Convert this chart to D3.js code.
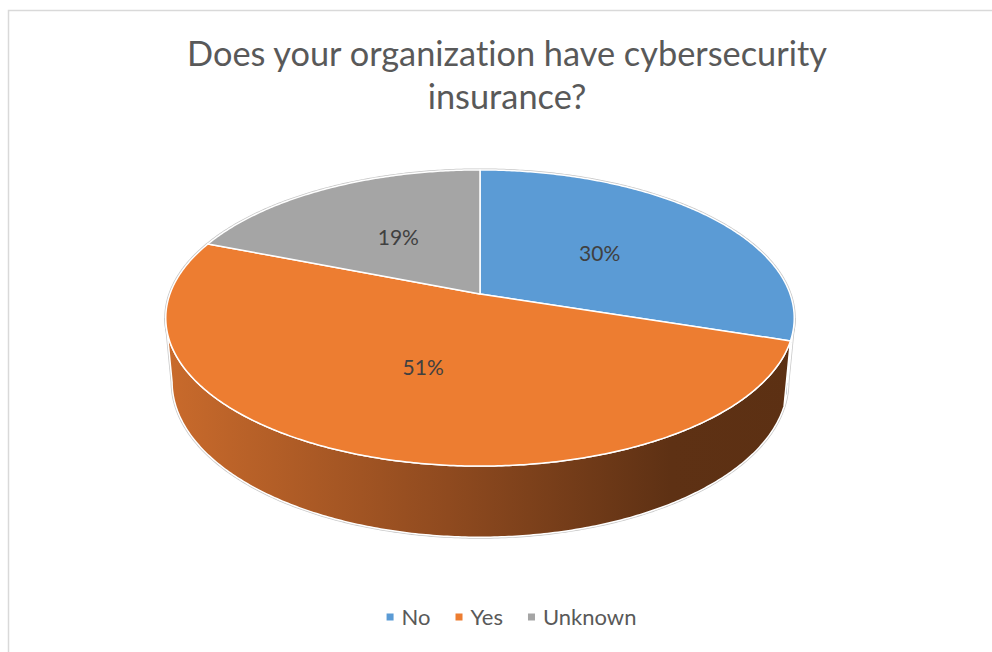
<!DOCTYPE html>
<html><head><meta charset="utf-8">
<script src="https://cdn.jsdelivr.net/npm/d3@7"></script>
<style>body{margin:0;background:#fff}svg{display:block}text{font-variant-ligatures:none;font-feature-settings:"liga" 0}</style>
</head><body>
<svg id="c" width="992" height="652"></svg>
<script>
// ---- data ----
const categories = ["No", "Yes", "Unknown"];
const values = [30, 51, 19];
const labels = ["30%", "51%", "19%"];
const titleLines = ["Does your organization have cybersecurity", "insurance?"];

// ---- style ----
const topColors = ["#5b9bd5", "#ed7d31", "#a5a5a5"];
const sideStops = [
  [["0", "#3f6f9c"], ["0.5", "#2e5478"], ["1", "#213d58"]],
  [["0", "#ca6b2c"], ["0.45", "#8f4a1f"], ["0.8", "#5e3114"], ["1", "#5c3013"]],
  [["0", "#8a8a8a"], ["1", "#555555"]]
];
const FONT = "Lato, 'Open Sans', sans-serif";

const svg = d3.select("#c");
const defs = svg.append("defs");

// chart border
svg.append("rect").attr("x", 8.5).attr("y", 10.5).attr("width", 1000).attr("height", 700)
  .attr("fill", "none").attr("stroke", "#d9d9d9").attr("stroke-width", 1.5);

// ---- perspective projection of a tilted cylinder ----
const P = {cx: 480, cy: 294, f: 1693, D: 5.46, sin: 0.465, cos: 0.885, h: 0.235};
function proj(X, Y, Z) {
  const yc = Y * P.cos - Z * P.sin, zc = Y * P.sin + Z * P.cos;
  const s = P.f / (P.D - zc);
  return [P.cx + X * s, P.cy - yc * s];
}
function pt(a, r, Y) { return proj(Math.sin(a) * r, Y, -Math.cos(a) * r); }
const aL = Math.acos(-P.cos / P.D), aR = 2 * Math.PI - aL; // visible side range
const line = d3.line().curve(d3.curveLinearClosed);
function arcPts(a0, a1, r, Y) {
  const n = Math.max(2, Math.ceil((a1 - a0) / 0.01));
  return d3.range(n + 1).map(i => pt(a0 + (a1 - a0) * i / n, r, Y));
}

const pie = d3.pie().sort(null).value(d => d)(values);

const xl = proj(-1, 0, 0.16)[0], xr = proj(1, 0, 0.16)[0];
sideStops.forEach((st, i) => {
  const g = defs.append("linearGradient").attr("id", "side" + i)
    .attr("gradientUnits", "userSpaceOnUse")
    .attr("x1", xl).attr("x2", xr).attr("y1", 0).attr("y2", 0);
  st.forEach(s => g.append("stop").attr("offset", s[0]).attr("stop-color", s[1]));
});

// outer gray outline (under everything)
const outline = arcPts(0, 2 * Math.PI, 1, 0);
svg.append("path").attr("d", line(outline)).attr("fill", "none")
  .attr("stroke", "#c8c8c8").attr("stroke-width", 3);
const sideAll = arcPts(aL, aR, 1, 0).concat(arcPts(aL, aR, 1, -P.h).reverse());
svg.append("path").attr("d", line(sideAll)).attr("fill", "none")
  .attr("stroke", "#c8c8c8").attr("stroke-width", 3);

// sides
pie.forEach((d, i) => {
  const a0 = Math.max(d.startAngle, aL), a1 = Math.min(d.endAngle, aR);
  if (a1 <= a0) return;
  const pts = arcPts(a0, a1, 1, 0).concat(arcPts(a0, a1, 1, -P.h).reverse());
  svg.append("path").attr("d", line(pts)).attr("fill", `url(#side${i})`)
    .attr("stroke", "#ffffff").attr("stroke-width", 1.5).attr("stroke-linejoin", "round");
});

// top faces
pie.forEach((d, i) => {
  const pts = [proj(0, 0, 0)].concat(arcPts(d.startAngle, d.endAngle, 1, 0));
  svg.append("path").attr("d", line(pts)).attr("fill", topColors[i])
    .attr("stroke", "#ffffff").attr("stroke-width", 1.5).attr("stroke-linejoin", "round");
});

// data labels
pie.forEach((d, i) => {
  const p = pt((d.startAngle + d.endAngle) / 2, 0.5, 0);
  svg.append("text").attr("x", p[0]).attr("y", p[1]).attr("dy", "0.35em")
    .attr("text-anchor", "middle").attr("font-family", FONT).attr("font-size", 21)
    .attr("fill", "#404040").text(labels[i]);
});

// title
const title = svg.append("g");
const tl = titleLines.map((t, i) => title.append("text")
  .attr("x", 507).attr("y", 66 + i * 43).attr("text-anchor", "middle")
  .attr("font-family", FONT).attr("font-size", 30).attr("fill", "#595959").text(t));
const w0 = tl[0].node().getComputedTextLength();
const fs = 30 * 640 / w0;
tl.forEach(t => t.attr("font-size", fs));

// legend
const leg = svg.append("g");
let x = 0;
categories.forEach((c, i) => {
  const g = leg.append("g").attr("transform", `translate(${x},0)`);
  g.append("rect").attr("x", 0).attr("y", -11.5).attr("width", 7).attr("height", 7).attr("fill", topColors[i]);
  const t = g.append("text").attr("x", 15).attr("y", 0).attr("font-family", FONT)
    .attr("font-size", 22).attr("fill", "#595959").text(c);
  const w = 15 + t.node().getComputedTextLength();
  x += w + 25;
});
const totalW = x - 25;
leg.attr("transform", `translate(${511.5 - totalW / 2},625)`);
</script>
</body></html>
